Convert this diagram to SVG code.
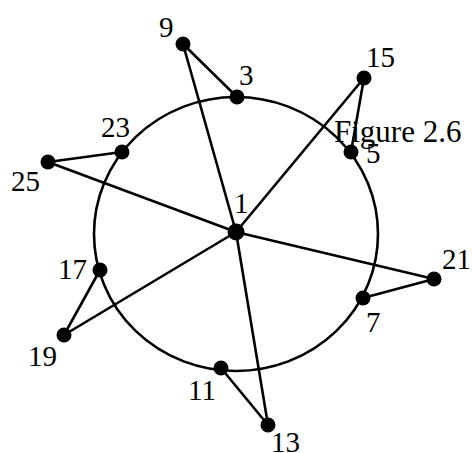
<svg xmlns="http://www.w3.org/2000/svg" width="472" height="453" viewBox="0 0 472 453" font-family="'Liberation Serif', 'Times New Roman', serif" font-size="29">
<style>
.e{stroke:#000;stroke-width:2.6;fill:none}
.n{fill:#000}
</style>
<rect width="472" height="453" fill="#fff"/>
<g id="connectors" class="e">
<ellipse cx="236" cy="234" rx="142" ry="137"/>
<line x1="183" y1="44" x2="237" y2="97"/>
<line x1="183" y1="44" x2="236" y2="232"/>
<line x1="48" y1="162" x2="122" y2="152"/>
<line x1="48" y1="162" x2="236" y2="232"/>
<line x1="364" y1="78" x2="351" y2="152"/>
<line x1="364" y1="78" x2="236" y2="232"/>
<line x1="64" y1="335" x2="100" y2="270"/>
<line x1="64" y1="335" x2="236" y2="232"/>
<line x1="434" y1="279" x2="363" y2="298"/>
<line x1="434" y1="279" x2="236" y2="232"/>
<line x1="268" y1="425" x2="221" y2="368"/>
<line x1="268" y1="425" x2="236" y2="232"/>
</g>
<g id="n1"><circle class="n" cx="236" cy="232" r="8.5"/><text x="234" y="213">1</text></g>
<g id="n3"><circle class="n" cx="237" cy="97" r="7.5"/><text x="239" y="85">3</text></g>
<g id="n5"><circle class="n" cx="351" cy="152" r="7.5"/><text x="366" y="163">5</text></g>
<g id="n7"><circle class="n" cx="363" cy="298" r="7.5"/><text x="366" y="332">7</text></g>
<g id="n9"><circle class="n" cx="183" cy="44" r="7.5"/><text x="159" y="37">9</text></g>
<g id="n11"><circle class="n" cx="221" cy="368" r="7.5"/><text x="188" y="400">11</text></g>
<g id="n13"><circle class="n" cx="268" cy="425" r="7.5"/><text x="271" y="452">13</text></g>
<g id="n15"><circle class="n" cx="364" cy="78" r="7.5"/><text x="366" y="67">15</text></g>
<g id="n17"><circle class="n" cx="100" cy="270" r="7.5"/><text x="58" y="279">17</text></g>
<g id="n19"><circle class="n" cx="64" cy="335" r="7.5"/><text x="28" y="366">19</text></g>
<g id="n21"><circle class="n" cx="434" cy="279" r="7.5"/><text x="442" y="269">21</text></g>
<g id="n23"><circle class="n" cx="122" cy="152" r="7.5"/><text x="101" y="137">23</text></g>
<g id="n25"><circle class="n" cx="48" cy="162" r="7.5"/><text x="11" y="191">25</text></g>
<text id="caption" x="334" y="142" font-size="31">Figure 2.6</text>
</svg>
